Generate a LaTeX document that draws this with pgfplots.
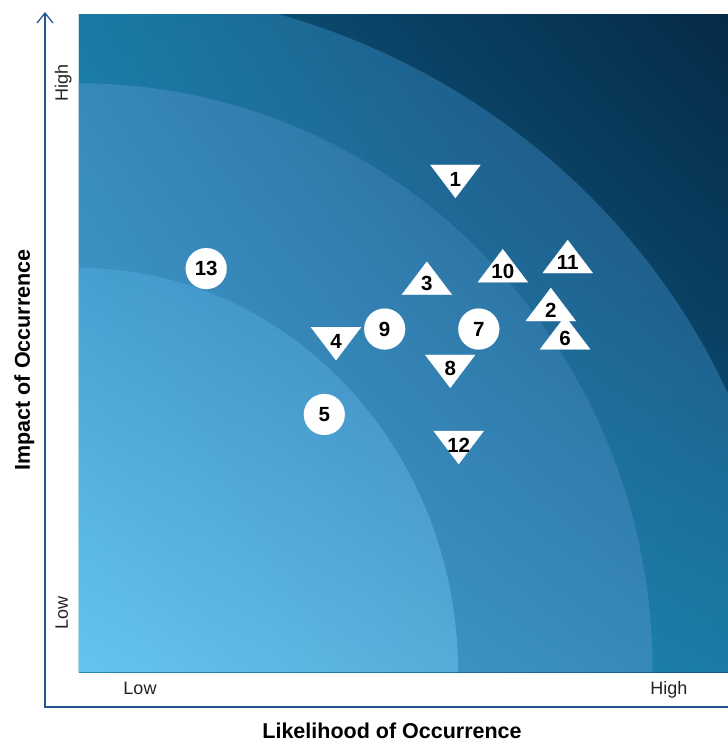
\documentclass[border=0pt]{standalone}
\usepackage{fontspec}
\setmainfont{Liberation Sans}
\usepackage{pgfplots}
\pgfplotsset{compat=1.18}
\usetikzlibrary{shadings}

\definecolor{axline}{HTML}{24578F}
\definecolor{labgray}{HTML}{222222}
% band 4 (outermost)
\definecolor{bFourLL}{HTML}{1B77A3}
\definecolor{bFourUL}{HTML}{0E5880}
\definecolor{bFourLR}{HTML}{0E5880}
\definecolor{bFourUR}{HTML}{052A47}
% band 3
\definecolor{bThreeLL}{HTML}{2A8FBF}
\definecolor{bThreeUL}{HTML}{187AA4}
\definecolor{bThreeLR}{HTML}{187AA4}
\definecolor{bThreeUR}{HTML}{234070}
% band 2
\definecolor{bTwoLL}{HTML}{45A5D5}
\definecolor{bTwoUL}{HTML}{3889BB}
\definecolor{bTwoLR}{HTML}{3889BB}
\definecolor{bTwoUR}{HTML}{1F5F8F}
% band 1 (innermost)
\definecolor{bOneLL}{HTML}{66C4F0}
\definecolor{bOneUL}{HTML}{469FD0}
\definecolor{bOneLR}{HTML}{57ACD9}
\definecolor{bOneUR}{HTML}{3A88BC}

\begin{document}
\begin{tikzpicture}
\useasboundingbox (-79pt,-70pt) rectangle (649pt,672pt);
\begin{axis}[
  at={(0pt,0pt)}, anchor=south west,
  scale only axis, width=649pt, height=657pt,
  xmin=0, xmax=10, ymin=0, ymax=10,
  axis line style={draw=none},
  xtick=\empty, ytick=\empty,
  clip=false,
  xlabel={Likelihood of Occurrence},
  ylabel={Impact of Occurrence},
  x label style={at={(axis description cs:0.4823,-0.1005)}, anchor=base, inner sep=0pt,
    font=\bfseries\fontsize{21.5}{22}\selectfont},
  y label style={at={(axis description cs:-0.0755,0.475)}, rotate=0, anchor=base, inner sep=0pt,
    font=\bfseries\fontsize{21.5}{22}\selectfont},
  point meta=explicit symbolic,
  nodes near coords,
  every node near coord/.append style={anchor=center, inner sep=0pt,
    font=\bfseries\fontsize{20.5}{21}\selectfont, text=black},
]
\begin{scope}
\clip (axis cs:0,0) rectangle (axis cs:10,10);
\shade[lower left=bFourLL, upper left=bFourUL, lower right=bFourLR, upper right=bFourUR]
  (axis cs:0,0) rectangle (axis cs:10,10);
\shade[lower left=bThreeLL, upper left=bThreeUL, lower right=bThreeLR, upper right=bThreeUR]
  (axis cs:0,0) -- (axis cs:0,10.43) arc[start angle=90, end angle=0, x radius=10.94, y radius=10.43] -- cycle;
\shade[lower left=bTwoLL, upper left=bTwoUL, lower right=bTwoLR, upper right=bTwoUR]
  (axis cs:0,0) -- (axis cs:0,8.96) arc[start angle=90, end angle=0, x radius=8.84, y radius=8.96] -- cycle;
\shade[lower left=bOneLL, upper left=bOneUL, lower right=bOneLR, upper right=bOneUR]
  (axis cs:0,0) -- (axis cs:0,6.15) arc[start angle=90, end angle=0, x radius=5.84, y radius=6.15] -- cycle;
\end{scope}

% circles
\addplot[only marks, color=white, mark=*, mark size=20.5pt, mark options={fill=white, draw=white, line width=0.1pt}]
  coordinates {(3.78,3.92)[5] (6.16,5.22)[7] (4.71,5.22)[9] (1.96,6.14)[13]};
% upward triangles
\addplot[only marks, color=white, mark=triangle*, mark size=28.9pt,
  mark options={fill=white, draw=white, line width=0.1pt, yscale=0.762}]
  coordinates {(7.27,5.51)[2] (5.36,5.91)[3] (7.49,5.08)[6] (6.53,6.10)[10] (7.53,6.24)[11]};
% downward triangles
\addplot[only marks, color=white, mark=triangle*, mark size=28.9pt,
  mark options={fill=white, draw=white, line width=0.1pt, rotate=180, yscale=0.762},
  every node near coord/.append style={yshift=-3pt}]
  coordinates {(5.80,7.55)[1] (3.96,5.08)[4] (5.72,4.66)[8] (5.85,3.50)[12]};
\end{axis}

% axis arrows
\draw[axline, line width=1.3pt] (649pt,-35pt) -- (-34pt,-35pt) -- (-34pt,659pt);
\draw[axline, line width=1.3pt, line join=miter] (-42pt,649pt) -- (-34pt,659pt) -- (-26pt,649pt);

% Low / High labels
\node[font=\fontsize{18}{18}\selectfont, text=labgray, anchor=base, inner sep=0pt] at (61pt,-23pt) {Low};
\node[font=\fontsize{18}{18}\selectfont, text=labgray, anchor=base, inner sep=0pt] at (590pt,-23pt) {High};
\node[font=\fontsize{18}{18}\selectfont, text=labgray, rotate=90, anchor=base, inner sep=0pt] at (-11pt,59pt) {Low};
\node[font=\fontsize{18}{18}\selectfont, text=labgray, rotate=90, anchor=base, inner sep=0pt] at (-11pt,589pt) {High};
\end{tikzpicture}
\end{document}
